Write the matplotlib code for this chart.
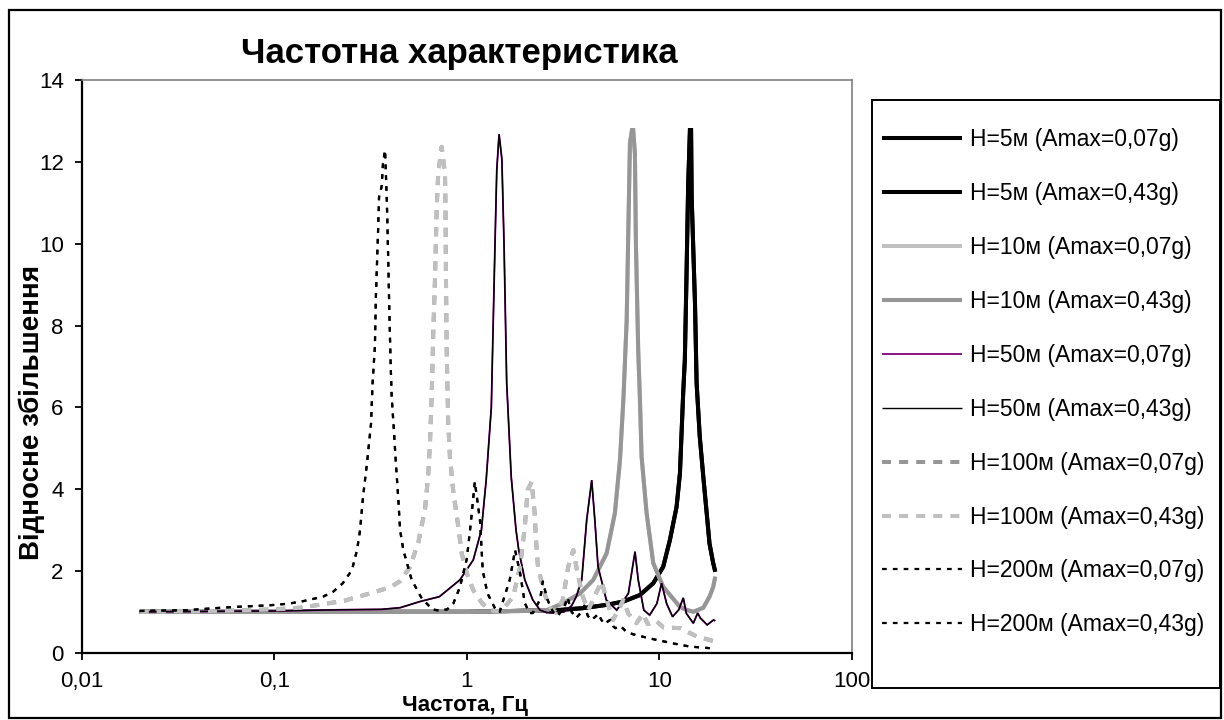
import matplotlib
matplotlib.use('Agg')
import matplotlib.pyplot as plt
from matplotlib.patches import Rectangle
from matplotlib.ticker import NullLocator

# frequency (Hz) and relative amplification
f_5m = [0.02, 0.1, 1.0, 2.93, 4.02, 5.32, 6.49, 7.92, 9.29, 10.46, 11.34, 12.28, 12.78, 13.3,
        13.55, 13.8, 14.1, 14.4, 14.6, 14.7, 15.3, 15.6, 16.2, 16.9, 17.6, 18.2, 19.0, 19.5]
a_5m = [1.0, 1.0, 1.0, 1.04, 1.09, 1.17, 1.25, 1.41, 1.7, 2.1, 2.76, 3.57, 4.39, 6.4,
        7.16, 9.03, 11.43, 12.78, 12.78, 11.15, 8.54, 6.59, 5.28, 4.3, 3.41, 2.67, 2.2, 1.98]

f_10m = [0.02, 0.1, 1.0, 2.0, 2.6, 3.16, 3.87, 4.53, 5.32, 5.87, 6.24, 6.5, 6.76, 6.89, 7.03, 7.2,
         7.31, 7.46, 7.55, 7.76, 7.92, 8.08, 8.58, 9.29, 10.46, 12.78, 13.8, 15.0, 16.9, 18.2, 19.0, 19.5]
a_10m = [1.0, 1.0, 1.0, 1.02, 1.04, 1.21, 1.45, 1.78, 2.43, 3.41, 4.71, 6.2, 8.13, 10.25, 12.46, 12.78,
         12.78, 12.2, 10.0, 7.4, 6.2, 4.79, 3.41, 2.19, 1.61, 1.12, 1.05, 1.0, 1.1, 1.37, 1.6, 1.86]

f_50m = [0.02, 0.1, 0.22, 0.36, 0.45, 0.57, 0.72, 0.92, 1.08, 1.19, 1.26, 1.34, 1.36, 1.40, 1.43,
         1.47, 1.52, 1.56, 1.61, 1.70, 1.80, 1.86, 2.0, 2.2, 2.4, 2.6, 2.9, 3.2, 3.5, 3.7,
         3.95, 4.19, 4.45, 4.62, 4.8, 5.1, 5.3, 6.0, 6.9, 7.2, 7.47, 7.76, 8.3, 8.9, 9.7,
         10.26, 10.9, 11.7, 12.6, 13.3, 13.8, 15.0, 15.8, 16.3, 17.7, 19.1, 19.5]
a_50m = [1.0, 1.02, 1.05, 1.06, 1.1, 1.25, 1.37, 1.78, 2.27, 3.0, 4.22, 6.0, 7.38, 9.98, 11.8,
         12.68, 12.07, 9.98, 6.6, 4.3, 3.0, 2.51, 1.78, 1.29, 1.04, 0.98, 0.97, 1.0, 1.15, 1.37,
         1.78, 3.24, 4.22, 3.24, 2.1, 1.61, 1.29, 1.04, 1.45, 2.0, 2.47, 1.78, 1.04, 0.92, 1.2,
         1.7, 1.2, 0.88, 1.05, 1.34, 0.96, 0.72, 0.97, 0.85, 0.68, 0.8, 0.78]

f_100m = [0.02, 0.05, 0.1, 0.136, 0.16, 0.231, 0.314, 0.40, 0.45, 0.507, 0.56, 0.606, 0.63, 0.643,
          0.657, 0.669, 0.683, 0.697, 0.71, 0.74, 0.77, 0.775, 0.779, 0.786, 0.80, 0.817, 0.85,
          0.903, 0.94, 1.0, 1.08, 1.2, 1.31, 1.5, 1.74, 1.89, 2.0, 2.07, 2.17, 2.25, 2.28, 2.34,
          2.53, 2.68, 2.9, 3.15, 3.36, 3.57, 3.76, 4.0, 4.27, 4.68, 5.01, 5.32, 5.74, 6.24, 6.49,
          6.89, 7.6, 8.2, 8.7, 9.6, 10.5, 12.8, 15.6, 19.5]
a_100m = [1.0, 1.02, 1.06, 1.1, 1.15, 1.27, 1.45, 1.6, 1.75, 2.1, 2.7, 3.5, 4.34, 5.1,
          6.3, 7.8, 9.12, 10.85, 11.72, 12.37, 11.72, 10.85, 9.12, 7.38, 5.64, 4.78, 3.95,
          3.08, 2.43, 1.94, 1.53, 1.21, 1.04, 1.0, 1.37, 2.1, 3.08, 3.98, 4.18, 3.41, 2.84, 2.1,
          1.45, 1.12, 0.98, 1.3, 2.1, 2.51, 1.94, 1.37, 1.04, 1.45, 1.74, 1.29, 0.8, 1.12, 1.29,
          0.96, 0.72, 0.95, 0.7, 0.78, 0.62, 0.6, 0.4, 0.27]

f_200m = [0.02, 0.035, 0.057, 0.095, 0.119, 0.141, 0.179, 0.202, 0.227, 0.253, 0.269, 0.279,
          0.289, 0.303, 0.318, 0.324, 0.333, 0.337, 0.346, 0.35, 0.361, 0.367, 0.376, 0.383,
          0.386, 0.391, 0.396, 0.402, 0.407, 0.418, 0.428, 0.44, 0.45, 0.468, 0.517, 0.58, 0.66,
          0.72, 0.79, 0.85, 0.92, 1.0, 1.05, 1.1, 1.17, 1.21, 1.28, 1.43, 1.48, 1.67, 1.78, 1.89,
          2.0, 2.12, 2.2, 2.4, 2.48, 2.62, 2.8, 2.96, 3.2, 3.33, 3.5, 3.7, 3.95, 4.07, 4.25, 4.44,
          4.7, 4.81, 5.0, 5.18, 5.45, 5.55, 5.75, 5.9, 6.2, 6.3, 6.7, 7.3, 8.9, 11.7, 14.4, 19.5]
a_200m = [1.02, 1.04, 1.11, 1.16, 1.2, 1.26, 1.37, 1.49, 1.7, 2.02, 2.51, 3.0,
          3.81, 4.63, 5.6, 6.6, 7.48, 8.7, 10.33, 11.15, 11.4, 11.97, 12.29, 11.23,
          10.66, 9.52, 8.3, 7.08, 6.26, 5.44, 4.63, 3.81, 3.0, 2.51, 1.78, 1.35, 1.06,
          1.03, 1.06, 1.2, 1.6, 2.3, 3.2, 4.18, 3.24, 2.0, 1.45, 1.0, 1.0, 1.78, 2.51, 1.95,
          1.21, 0.97, 0.97, 1.3, 1.74, 1.3, 1.0, 0.9, 1.1, 1.35, 1.0, 0.85, 1.0, 1.15, 0.9, 0.8,
          0.9, 0.95, 0.8, 0.7, 0.78, 0.8, 0.65, 0.6, 0.63, 0.65, 0.52, 0.45, 0.35, 0.23, 0.15, 0.1]

x_ticks = [0.01, 0.1, 1, 10, 100]
x_tick_labels = ['0,01', '0,1', '1', '10', '100']
y_ticks = [0, 2, 4, 6, 8, 10, 12, 14]

dash = (0, (6.5, 5.8))
dot = (0, (3.4, 4.4))

series = [
    ('H=5м (Amax=0,07g)', f_5m, a_5m, dict(color='black', lw=2.9)),
    ('H=5м (Amax=0,43g)', f_5m, a_5m, dict(color='black', lw=2.9)),
    ('H=10м (Amax=0,07g)', f_10m, a_10m, dict(color='#c0c0c0', lw=2.9)),
    ('H=10м (Amax=0,43g)', f_10m, a_10m, dict(color='#969696', lw=2.9)),
    ('H=50м (Amax=0,07g)', f_50m, a_50m, dict(color='#800080', lw=1.3)),
    ('H=50м (Amax=0,43g)', f_50m, a_50m, dict(color='black', lw=1.0)),
    ('H=100м (Amax=0,07g)', f_100m, a_100m, dict(color='#969696', lw=2.9, ls=dash)),
    ('H=100м (Amax=0,43g)', f_100m, a_100m, dict(color='#c0c0c0', lw=2.9, ls=dash)),
    ('H=200м (Amax=0,07g)', f_200m, a_200m, dict(color='black', lw=1.6, ls=dot)),
    ('H=200м (Amax=0,43g)', f_200m, a_200m, dict(color='black', lw=1.6, ls=dot)),
]

plt.rcParams['font.family'] = ['Liberation Sans', 'DejaVu Sans']
plt.rcParams['lines.scale_dashes'] = False

W, H = 1224, 720
fig = plt.figure(figsize=(W / 100, H / 100), dpi=100)
ax = fig.add_axes([81.7 / W, 1 - 652.7 / H, (852 - 81.7) / W, (652.7 - 80.2) / H])

handles = []
for i, (label, f, a, kw) in enumerate(series):
    line, = ax.plot(f, a, label=label, solid_capstyle='butt', dash_capstyle='butt',
                    solid_joinstyle='miter', zorder=2 + i, **kw)
    handles.append(line)

ax.set_xscale('log')
ax.set_xlim(0.01, 100)
ax.set_ylim(0, 14)
ax.set_xticks(x_ticks, labels=x_tick_labels)
ax.xaxis.set_minor_locator(NullLocator())
ax.set_yticks(y_ticks)
ax.tick_params(direction='out', length=5, width=1.3, labelsize=16, color='black')
ax.tick_params(axis='x', pad=8)
ax.tick_params(axis='y', pad=8)

for side in ['top', 'right']:
    ax.spines[side].set_color('#808080')
    ax.spines[side].set_linewidth(1.2)
for side in ['left', 'bottom']:
    ax.spines[side].set_color('black')
    ax.spines[side].set_linewidth(1.6)

# titles
fig.text(459 / W, 1 - 53 / H, 'Частотна характеристика', ha='center', va='center',
         fontsize=25, fontweight='bold')
fig.text(465 / W, 1 - 706 / H, 'Частота, Гц', ha='center', va='center',
         fontsize=16, fontweight='bold')
fig.text(32 / W, 1 - 412 / H, 'Відносне збільшення', ha='center', va='center',
         rotation=90, fontsize=20, fontweight='bold')

# legend: frameless, with its own box
leg = fig.legend(handles=handles, loc='upper left', bbox_to_anchor=(882 / W, 1 - 128 / H),
                 frameon=False, fontsize=16.5, handlelength=3.5, handletextpad=0.35,
                 labelspacing=1.35, borderpad=0, borderaxespad=0)
fig.add_artist(Rectangle((872 / W, 1 - 688 / H), (1220 - 872) / W, (688 - 100) / H,
                         transform=fig.transFigure, fill=False, edgecolor='black', lw=1.4))

# outer chart border
fig.add_artist(Rectangle((9 / W, 1 - 718 / H), (1221 - 9) / W, (718 - 10) / H,
                         transform=fig.transFigure, fill=False, edgecolor='black', lw=1.6))

fig.savefig('out.png', dpi=100)
